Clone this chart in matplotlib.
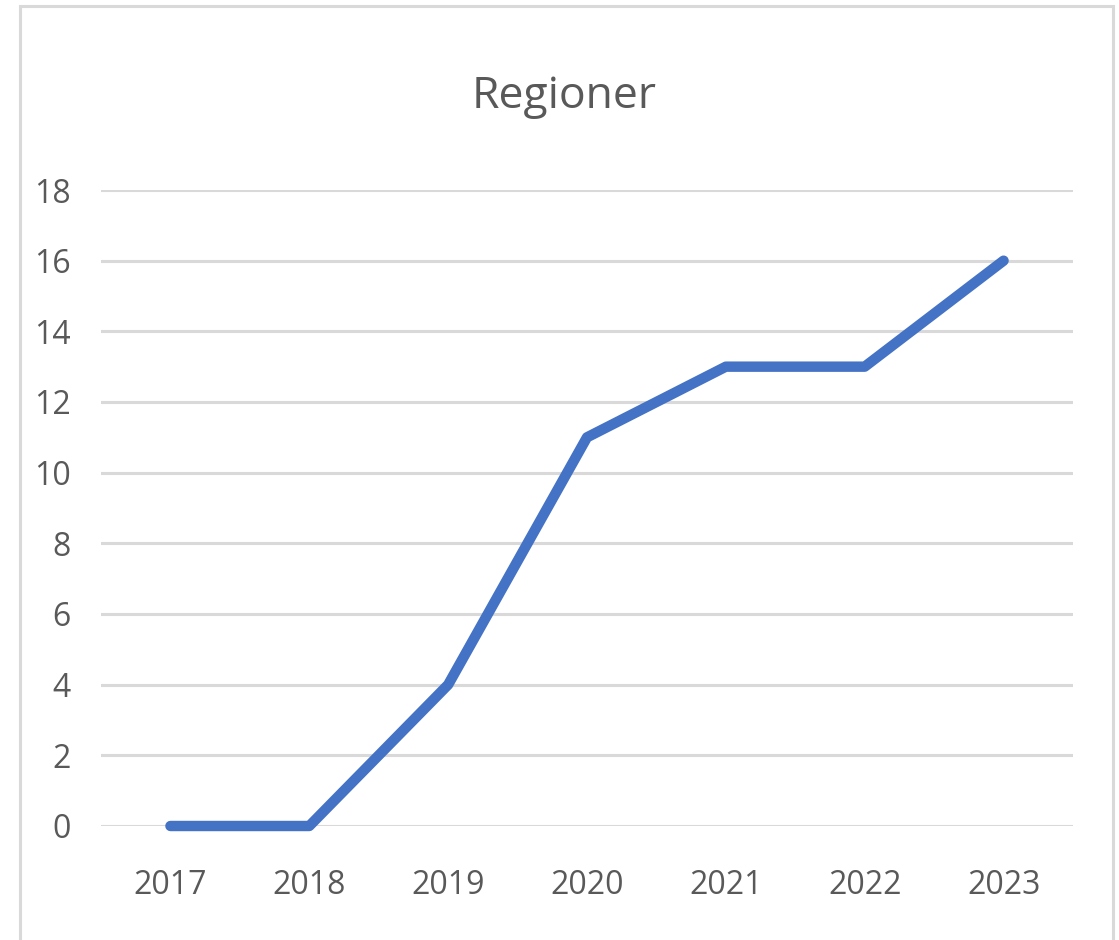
import matplotlib
matplotlib.use("Agg")
import matplotlib.pyplot as plt
from matplotlib.patches import Rectangle
from matplotlib import font_manager

years = ["2017", "2018", "2019", "2020", "2021", "2022", "2023"]
values = [0, 0, 4, 11, 13, 13, 16]
yticks = [0, 2, 4, 6, 8, 10, 12, 14, 16, 18]

avail = {f.name for f in font_manager.fontManager.ttflist}
fam = [f for f in ["Liberation Sans Narrow", "Open Sans", "DejaVu Sans"] if f in avail]
plt.rcParams['font.family'] = fam

W, H = 1119, 940
fig = plt.figure(figsize=(W / 100, H / 100), dpi=100)
ax = fig.add_axes([101 / W, 114 / H, (1073 - 101) / W, (826 - 190) / H])

x = list(range(len(years)))
ax.plot(x, values, color="#4472C4", lw=7.5, solid_capstyle="round",
        solid_joinstyle="round", clip_on=False, zorder=3)
ax.set_xlim(-0.5, len(years) - 0.5)
ax.set_ylim(0, 18)
ax.set_yticks(yticks)
ax.set_xticks(x)
ax.set_xticklabels(years)
ax.grid(axis="y", color="#D9D9D9", lw=2.2)
ax.set_axisbelow(True)
for s in ax.spines.values():
    s.set_visible(False)
ax.tick_params(axis="both", length=0, labelsize=23, colors="#595959")
ax.tick_params(axis="x", pad=31)
ax.tick_params(axis="y", pad=22)

fig.text(564 / W, 1 - 108 / H, "Regioner", ha="center", va="baseline",
         fontsize=32, color="#595959")

fig.patches.append(Rectangle((20 / W, -0.05), (1113 - 20) / W, 1.05 - 6 / H,
                             transform=fig.transFigure, fill=False,
                             edgecolor="#D9D9D9", lw=2.2))

fig.savefig("out.png", dpi=100)
